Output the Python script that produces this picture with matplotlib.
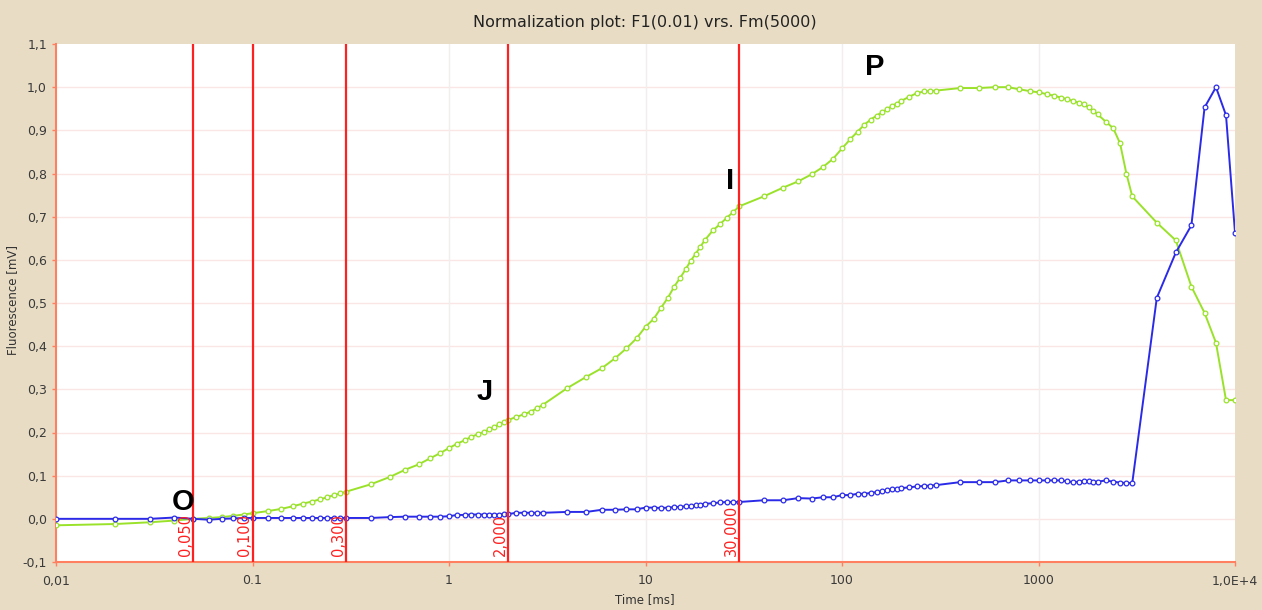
import matplotlib
matplotlib.use("Agg")
import matplotlib.pyplot as plt

# ---------------- data ----------------
time_ms = [0.01, 0.02, 0.03, 0.04, 0.05, 0.06, 0.07, 0.08, 0.09, 0.10,
           0.12, 0.14, 0.16, 0.18, 0.20, 0.22, 0.24, 0.26, 0.28, 0.30,
           0.40, 0.50, 0.60, 0.70, 0.80, 0.90, 1.0, 1.1, 1.2, 1.3,
           1.4, 1.5, 1.6, 1.7, 1.8, 1.9, 2.0, 2.2, 2.4, 2.6,
           2.8, 3.0, 4, 5, 6, 7, 8, 9, 10, 11,
           12, 13, 14, 15, 16, 17, 18, 19, 20, 22,
           24, 26, 28, 30, 40, 50, 60, 70, 80, 90,
           100, 110, 120, 130, 140, 150, 160, 170, 180, 190,
           200, 220, 240, 260, 280, 300, 400, 500, 600, 700,
           800, 900, 1000, 1100, 1200, 1300, 1400, 1500, 1600, 1700,
           1800, 1900, 2000, 2200, 2400, 2600, 2800, 3000, 4000, 5000,
           6000, 7000, 8000, 9000, 10000]

fluor_green = [-0.015, -0.012, -0.008, -0.004, 0.000, 0.002, 0.004, 0.007, 0.010, 0.013,
               0.018, 0.023, 0.029, 0.035, 0.040, 0.045, 0.050, 0.055, 0.059, 0.063,
               0.080, 0.097, 0.114, 0.126, 0.140, 0.152, 0.164, 0.174, 0.182, 0.190,
               0.196, 0.201, 0.207, 0.213, 0.219, 0.224, 0.229, 0.236, 0.242, 0.248,
               0.256, 0.264, 0.303, 0.329, 0.349, 0.372, 0.395, 0.418, 0.445, 0.463,
               0.489, 0.512, 0.538, 0.558, 0.578, 0.598, 0.614, 0.630, 0.645, 0.668,
               0.683, 0.698, 0.711, 0.724, 0.747, 0.767, 0.782, 0.798, 0.815, 0.834,
               0.858, 0.879, 0.897, 0.913, 0.925, 0.934, 0.942, 0.949, 0.957, 0.962,
               0.968, 0.978, 0.986, 0.990, 0.991, 0.992, 0.998, 0.998, 1.000, 1.000,
               0.995, 0.991, 0.988, 0.984, 0.980, 0.976, 0.972, 0.968, 0.964, 0.960,
               0.953, 0.945, 0.937, 0.920, 0.905, 0.870, 0.800, 0.747, 0.686, 0.645,
               0.538, 0.477, 0.408, 0.275, 0.275]

fluor_blue = [0.000, 0.000, 0.000, 0.003, 0.000, -0.002, 0.000, 0.001, 0.002, 0.002,
              0.002, 0.002, 0.002, 0.002, 0.002, 0.002, 0.002, 0.002, 0.002, 0.002,
              0.002, 0.004, 0.005, 0.005, 0.005, 0.005, 0.006, 0.009, 0.009, 0.010,
              0.010, 0.010, 0.010, 0.010, 0.010, 0.011, 0.011, 0.014, 0.014, 0.014,
              0.014, 0.014, 0.016, 0.016, 0.021, 0.021, 0.022, 0.022, 0.026, 0.026,
              0.025, 0.026, 0.027, 0.028, 0.029, 0.030, 0.031, 0.033, 0.035, 0.036,
              0.038, 0.039, 0.039, 0.039, 0.043, 0.043, 0.048, 0.047, 0.050, 0.050,
              0.055, 0.055, 0.058, 0.058, 0.060, 0.062, 0.064, 0.066, 0.069, 0.070,
              0.071, 0.073, 0.075, 0.076, 0.077, 0.078, 0.085, 0.085, 0.085, 0.089,
              0.089, 0.089, 0.089, 0.089, 0.089, 0.089, 0.087, 0.085, 0.086, 0.088,
              0.088, 0.086, 0.086, 0.089, 0.086, 0.084, 0.083, 0.083, 0.512, 0.617,
              0.680, 0.953, 1.000, 0.935, 0.663]

marker_times = [0.05, 0.1, 0.3, 2.0, 30.0]
marker_labels = ["0,050", "0,100", "0,300", "2,000", "30,000"]

phase_letters = ["O", "J", "I", "P"]
phase_x = [0.0445, 1.51, 26.8, 147]
phase_y = [0.038, 0.294, 0.782, 1.046]

x_ticks = [0.01, 0.1, 1, 10, 100, 1000, 10000]
x_ticklabels = ["0,01", "0.1", "1", "10", "100", "1000", "1,0E+4"]
y_ticks = [-0.1, 0.0, 0.1, 0.2, 0.3, 0.4, 0.5, 0.6, 0.7, 0.8, 0.9, 1.0, 1.1]
y_ticklabels = ["-0,1", "0,0", "0,1", "0,2", "0,3", "0,4", "0,5", "0,6", "0,7", "0,8", "0,9", "1,0", "1,1"]

# ---------------- figure ----------------
BG = "#E8DCC4"
AXIS_COL = "#FF8060"
GREEN = "#9AE22A"
BLUE = "#2A2AE8"
RED = "#FF2020"

plt.rcParams["font.family"] = ["DejaVu Sans"]
fig = plt.figure(figsize=(12.62, 6.10), dpi=100, facecolor=BG)
ax = fig.add_axes([56 / 1262, (610 - 562) / 610, (1235 - 56) / 1262, (562 - 44) / 610])
ax.set_facecolor("white")

ax.set_xscale("log")
ax.set_xlim(0.01, 10000)
ax.set_ylim(-0.1, 1.1)

# grid
for yv in y_ticks[1:-1]:
    ax.axhline(yv, color="#FBE6E6", lw=1.0, zorder=0)
for xv in x_ticks[1:-1]:
    ax.axvline(xv, color="#F3EEEE", lw=1.0, zorder=0)

ax.plot(time_ms, fluor_green, color=GREEN, lw=1.4, marker="o", ms=3.4,
        mfc="white", mec=GREEN, mew=0.9, zorder=3)
ax.plot(time_ms, fluor_blue, color=BLUE, lw=1.4, marker="o", ms=3.4,
        mfc="white", mec=BLUE, mew=0.9, zorder=4)

for xt, lab in zip(marker_times, marker_labels):
    ax.axvline(xt, color=RED, lw=1.6, zorder=5)
    ax.text(xt, -0.086, lab, rotation=90, ha="right", va="bottom",
            color=RED, fontsize=10.5, zorder=6)

for lt, lx, ly in zip(phase_letters, phase_x, phase_y):
    ax.text(lx, ly, lt, ha="center", va="center", fontsize=21,
            fontweight="bold", color="black", family="Liberation Sans", zorder=7)

ax.set_xticks(x_ticks)
ax.set_xticklabels(x_ticklabels)
ax.xaxis.set_minor_locator(matplotlib.ticker.NullLocator())
ax.set_yticks(y_ticks)
ax.set_yticklabels(y_ticklabels)
ax.tick_params(axis="both", colors=AXIS_COL, labelcolor="#3A3A3A", labelsize=9,
               length=3, width=1, direction="out")
ax.tick_params(axis="x", pad=6)

for s in ["top", "right"]:
    ax.spines[s].set_visible(False)
for s in ["left", "bottom"]:
    ax.spines[s].set_color(AXIS_COL)
    ax.spines[s].set_linewidth(1.5)

fig.text(645 / 1262, 1 - 22 / 610, "Normalization plot: F1(0.01) vrs. Fm(5000)",
         ha="center", va="center", fontsize=11.5, color="#222222")
fig.text(645 / 1262, 1 - 600 / 610, "Time [ms]", ha="center", va="center",
         fontsize=8.5, color="#333333")
fig.text(13 / 1262, 1 - 300 / 610, "Fluorescence [mV]", ha="center", va="center",
         rotation=90, fontsize=8.5, color="#333333")

fig.savefig("out.png", dpi=100, facecolor=BG)
